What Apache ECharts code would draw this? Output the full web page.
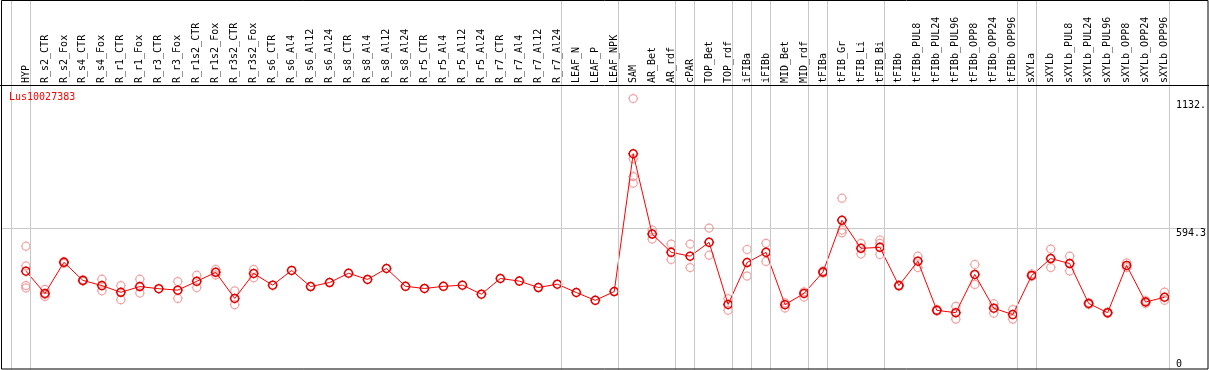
<!DOCTYPE html>
<html>
<head>
<meta charset="utf-8">
<script src="https://cdn.jsdelivr.net/npm/echarts@6/dist/echarts.min.js"></script>
<style>
html,body{margin:0;padding:0;background:#fff;}
#chart{width:1209px;height:370px;}
</style>
</head>
<body>
<div id="chart"></div>
<script>
const geneName = 'Lus10027383';
const categories = ['HYP','R_s2_CTR','R_s2_Fox','R_s4_CTR','R_s4_Fox','R_r1_CTR','R_r1_Fox','R_r3_CTR','R_r3_Fox','R_r1s2_CTR','R_r1s2_Fox','R_r3s2_CTR','R_r3s2_Fox','R_s6_CTR','R_s6_Al4','R_s6_Al12','R_s6_Al24','R_s8_CTR','R_s8_Al4','R_s8_Al12','R_s8_Al24','R_r5_CTR','R_r5_Al4','R_r5_Al12','R_r5_Al24','R_r7_CTR','R_r7_Al4','R_r7_Al12','R_r7_Al24','LEAF_N','LEAF_P','LEAF_NPK','SAM','AR_Bet','AR_rdf','cPAR','TOP_Bet','TOP_rdf','iFIBa','iFIBb','MID_Bet','MID_rdf','tFIBa','tFIB_Gr','tFIB_Li','tFIB_Bi','tFIBb','tFIBb_PUL8','tFIBb_PUL24','tFIBb_PUL96','tFIBb_OPP8','tFIBb_OPP24','tFIBb_OPP96','sXYLa','sXYLb','sXYLb_PUL8','sXYLb_PUL24','sXYLb_PUL96','sXYLb_OPP8','sXYLb_OPP24','sXYLb_OPP96'];
const means = [414,320,451,375,353,325,349,340,334,371,409,299,404,355,417,349,366,405,379,425,350,341,350,355,317,383,372,345,359,324,291,328,908,570,493,477,535,274,450,493,273,320,410,628,510,514,353,456,249,239,400,258,231,396,467,446,278,239,438,284,304];
const replicates = [[519,436,353,343],[337,307,316],[455,447],[378,372],[380,331],[353,294],[380,322],[],[370,299],[397,345],[421,398],[331,273],[421,386],[],[],[],[],[],[],[],[],[],[],[],[],[],[],[],[],[],[],[],[1140,887,812,784],[587,549],[528,463],[528,429],[595,481],[298,249],[505,393],[531,455],[280,259],[327,305],[415,405],[721,587,576],[531,486],[545,531,484],[356,350],[477,429],[252,246],[266,212],[442,358],[277,237],[252,212],[403,392],[507,429],[477,415],[281,274],[242,236],[449,429],[290,278],[326,291]];
const groupBoundaries = [-0.8,0.23,28.23,31.23,34.23,35.23,37.23,38.23,39.23,41.23,42.23,45.23,52.23,53.23,60.23];
const yGridValues = [594.3];
const yTickLabelsUpper = [594.3, 1132];
const yTickLabelsLower = [0];

const FONT = 'DejaVu Sans Mono';
// ring of radius 4 with four 1px ticks, in a 10x10 box
const symbolPath = 'path://M5,0L5,1M5,9L5,10M0,5L1,5M9,5L10,5M1,5C1,2.791,2.791,1,5,1C7.209,1,9,2.791,9,5C9,7.209,7.209,9,5,9C2.791,9,1,7.209,1,5Z';

const meanData = means.map((v, i) => [i, v]);
const repData = [];
replicates.forEach((arr, i) => arr.forEach(v => repData.push([i, v])));

const chart = echarts.init(document.getElementById('chart'), null, {renderer: 'canvas'});
const xMin = -1.3151, xMax = 62.178;
chart.setOption({
  animation: false,
  backgroundColor: '#fff',
  title: {
    text: geneName, left: 9, top: 92, padding: 0,
    textStyle: {color: '#ff0000', fontSize: 10, fontFamily: FONT, fontWeight: 'normal'}
  },
  grid: {left: 1, right: 1, top: 0, bottom: 0.5, containLabel: false},
  xAxis: {
    type: 'value', position: 'top', offset: -85, min: xMin, max: xMax,
    axisLine: {show: false}, axisTick: {show: false}, splitLine: {show: false},
    axisLabel: {
      customValues: categories.map((c, i) => i),
      rotate: 90, margin: 2, color: '#000', fontSize: 10, fontFamily: FONT,
      formatter: v => categories[Math.round(v)] || ''
    }
  },
  yAxis: [{
    type: 'value', position: 'right', min: 0, max: 1555,
    axisLine: {show: false},
    axisTick: {show: false, customValues: yGridValues},
    splitLine: {show: true, lineStyle: {color: '#c8c8c8', width: 1}},
    axisLabel: {
      customValues: yTickLabelsUpper, inside: true, align: 'left', margin: 30,
      verticalAlign: 'top', color: '#000', fontSize: 10, fontFamily: FONT,
      formatter: v => (v === 1132 ? '1132.' : String(v))
    }
  }, {
    type: 'value', position: 'right', min: 0, max: 1555,
    axisLine: {show: false},
    axisTick: {show: false, customValues: yTickLabelsLower},
    splitLine: {show: false},
    axisLabel: {
      customValues: yTickLabelsLower, inside: true, align: 'left', margin: 30,
      verticalAlign: 'bottom', color: '#000', fontSize: 10, fontFamily: FONT
    }
  }],
  series: [{
    type: 'scatter', name: 'replicates', data: repData, z: 2,
    symbol: symbolPath, symbolSize: 10,
    itemStyle: {color: 'rgba(0,0,0,0)', borderColor: '#ec8c8c', borderWidth: 1.2},
    silent: true
  }, {
    type: 'line', name: 'mean', data: meanData, z: 3,
    symbol: symbolPath, symbolSize: 10, showSymbol: true,
    lineStyle: {color: '#ff0000', width: 1},
    itemStyle: {color: 'rgba(0,0,0,0)', borderColor: '#e00000', borderWidth: 1.5},
    markLine: {
      silent: true, symbol: 'none', animation: false,
      label: {show: false},
      lineStyle: {color: '#c8c8c8', width: 1, type: 'solid'},
      emphasis: {disabled: true},
      data: groupBoundaries.map(b => ({xAxis: b}))
    }
  }],
  graphic: [{
    type: 'rect', silent: true, z: 100,
    shape: {x: 1.5, y: 0.5, width: 1206.5, height: 368.5},
    style: {fill: null, stroke: '#000', lineWidth: 1}
  }, {
    type: 'line', silent: true, z: 100,
    shape: {x1: 0, y1: 85.5, x2: 1209, y2: 85.5},
    style: {stroke: '#000', lineWidth: 1}
  }]
});
</script>
</body>
</html>
